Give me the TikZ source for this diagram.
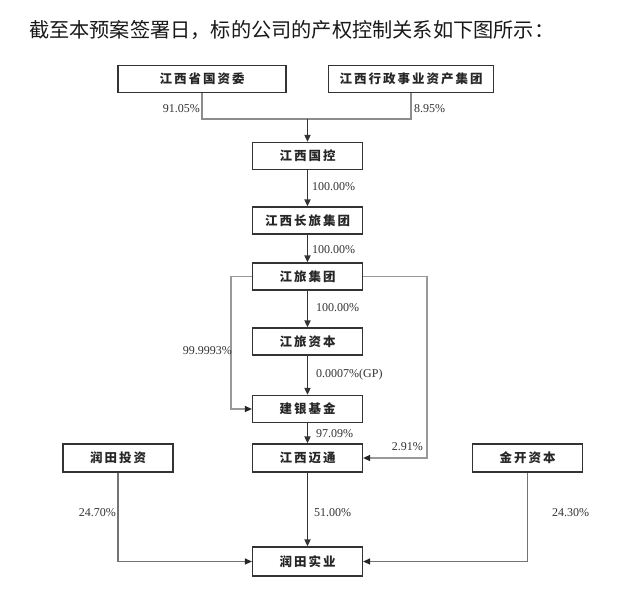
\documentclass[tikz,border=0pt]{standalone}
\usepackage{fontspec}
\setmainfont{Liberation Serif}
\newfontfamily\cjk{Noto Sans CJK SC}
\newfontfamily\cjkbox[LetterSpace=16]{Noto Sans CJK SC}
\usetikzlibrary{arrows.meta}
\begin{document}
\begin{tikzpicture}[x=1pt,y=-1pt]
\tikzset{
 org/.style={draw=black!80, line width=1.2pt, minimum width=110pt, minimum height=27pt, inner sep=0pt,
   font=\cjkbox\bfseries\fontsize{12.5}{14}\selectfont, text=black!85},
 pct/.style={font=\fontsize{12}{14}\selectfont, text=black!80, inner sep=0pt},
 mainarrow/.style={draw=black!80, line width=1.6pt, -{Triangle[length=7pt,width=6pt]}},
 sidearrow/.style={draw=black!40, line width=1.2pt, -{Triangle[length=7pt,width=6pt,color=black!85]}},
 mergeline/.style={draw=black!45, line width=1.1pt},
}
\useasboundingbox (0,0) rectangle (640,590);
\fill[white] (0,0) rectangle (640,590);

\node[anchor=west, inner sep=0pt, font=\cjk\fontsize{20.2}{24}\selectfont, text=black!90] (title) at (29,30)
  {截至本预案签署日，标的公司的产权控制关系如下图所示：};

\node[org, minimum width=168pt] (b1) at (202,79) {江西省国资委};
\node[org, minimum width=165pt] (b2) at (411,79) {江西行政事业资产集团};
\node[org] (b3) at (307.5,156) {江西国控};
\node[org] (b4) at (307.5,220.5) {江西长旅集团};
\node[org] (b5) at (307.5,276.5) {江旅集团};
\node[org] (b6) at (307.5,341.5) {江旅资本};
\node[org] (b7) at (307.5,409) {建银基金};
\node[org, minimum height=28pt] (b8) at (307.5,458) {江西迈通};
\node[org, minimum height=28pt] (b9) at (118,458) {润田投资};
\node[org, minimum height=28pt] (b10) at (527.5,458) {金开资本};
\node[org, minimum height=29pt] (b11) at (307.5,561.5) {润田实业};

% top merge
\coordinate (m) at (307.5,119);
\draw[mergeline] (b1.south) |- (m);
\draw[mergeline] (b2.south) |- (m);
\draw[mainarrow] (m) -- (b3.north);
\node[pct, anchor=east] (p1) at (200,109) {91.05\%};
\node[pct, anchor=west] (p2) at (414,109) {8.95\%};

% main chain
\draw[mainarrow] (b3) -- (b4);
\node[pct, anchor=west] (p3) at (312,187) {100.00\%};
\draw[mainarrow] (b4) -- (b5);
\node[pct, anchor=west] (p4) at (312,250) {100.00\%};
\draw[mainarrow] (b5) -- (b6);
\node[pct, anchor=west] (p5) at (316,308) {100.00\%};
\draw[mainarrow] (b6) -- (b7);
\node[pct, anchor=west] (p6) at (316,375) {0.0007\%(GP)};
\draw[mainarrow] (b7) -- (b8);
\node[pct, anchor=west] (p7) at (316,434) {97.09\%};
\draw[mainarrow] (b8) -- (b11);
\node[pct, anchor=west] (p8) at (314,513) {51.00\%};

% left side line
\coordinate (l1) at (231,276.5);
\coordinate (l2) at (231,409);
\draw[sidearrow] (b5.west) -- (l1) -- (l2) -- (b7.west);
\node[pct, anchor=east] (p9) at (232,351) {99.9993\%};

% right side line
\coordinate (r1) at (427,276.5);
\coordinate (r2) at (427,458);
\draw[sidearrow] (b5.east) -- (r1) -- (r2) -- (b8.east);
\node[pct, anchor=east] (p10) at (423,447) {2.91\%};

% bottom side lines
\coordinate (q1) at (118,561.5);
\draw[sidearrow, draw=black!55] (b9.south) -- (q1) -- (b11.west);
\node[pct, anchor=east] (p11) at (116,513) {24.70\%};
\coordinate (q2) at (527.5,561.5);
\draw[sidearrow, draw=black!55] (b10.south) -- (q2) -- (b11.east);
\node[pct, anchor=west] (p12) at (552,513) {24.30\%};
\end{tikzpicture}
\end{document}
